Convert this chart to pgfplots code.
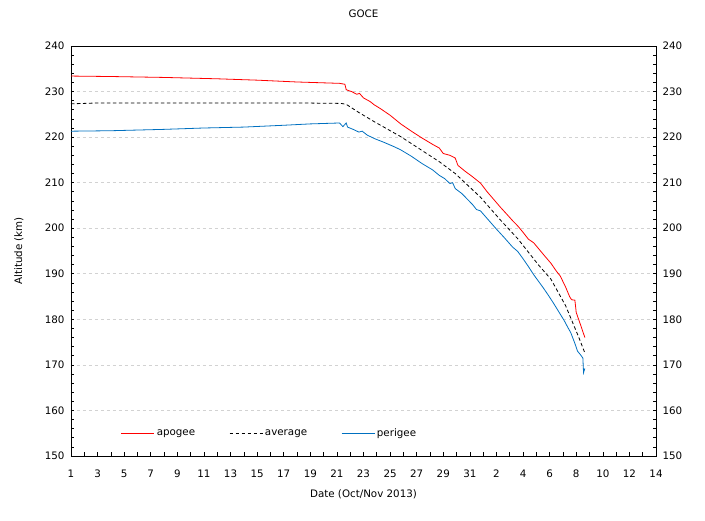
\documentclass[border=0pt]{standalone}
\usepackage{pgfplots}
\pgfplotsset{compat=1.18}
\usepackage{fontspec}
\setmainfont{DejaVu Sans}
\definecolor{apo}{RGB}{255,0,0}
\definecolor{peri}{RGB}{0,112,192}
\begin{document}
\begin{tikzpicture}[x=1pt,y=1pt]
\pgfplotsset{every axis/.append style={font=\fontsize{10.3}{12}\selectfont}}
\begin{axis}[
  name=main,
  scale only axis,
  width=585pt, height=410pt,
  xmin=1, xmax=45, ymin=150, ymax=240,
  /pgf/number format/assume math mode=true,
  xtick={1,3,5,7,9,11,13,15,17,19,21,23,25,27,29,31,33,35,37,39,41,43,45},
  xticklabels={1,3,5,7,9,11,13,15,17,19,21,23,25,27,29,31,2,4,6,8,10,12,14},
  minor x tick num=1,
  ytick={150,160,...,240},
  minor y tick num=4,
  tick align=inside,
  xtick pos=bottom,
  ytick pos=both,
  yticklabel pos=left,
  major tick length=3.5pt, minor tick length=3.5pt,
  tick style={black, line width=0.6pt},
  axis line style={line width=0.8pt},
  ymajorgrids,
  major grid style={dashed, gray!35, line width=0.6pt},
  xticklabel style={yshift=-10.5pt},
  yticklabel style={xshift=-3pt},
  title={GOCE},
  title style={at={(axis description cs:0.5,1.063)}, anchor=center},
  xlabel={Date (Oct/Nov 2013)},
  xlabel style={at={(axis description cs:0.5,-0.093)}, anchor=center},
  ylabel={Altitude (km)},
  ylabel style={at={(axis description cs:-0.089,0.5)}, anchor=center, rotate=0},
  legend style={at={(axis description cs:0.08,0.056)}, anchor=west, draw=white, fill=white,
    legend columns=3, font=\fontsize{10.3}{12}\selectfont,
    /tikz/every even column/.append style={column sep=32pt}},
  legend image code/.code={\draw[line width=0.8pt] (0pt,0pt) -- (33pt,0pt);},
]
\addplot[color=apo, line width=0.8pt] coordinates {
(1,233.4)(4,233.3)(8,233.1)(12,232.8)(15,232.5)(18,232.1)(21.2,231.8)(21.6,231.6)
(21.7,230.4)(22.1,230.0)(22.5,229.4)(22.7,229.6)(23.0,228.6)(23.5,227.8)(23.8,227.1)
(24.3,226.2)(25.0,224.8)(25.8,222.9)(26.6,221.3)(27.4,219.8)(28.2,218.4)(28.7,217.6)
(29.0,216.4)(29.5,216.0)(29.9,215.4)(30.1,213.8)(30.6,212.6)(31.2,211.3)(31.8,209.9)
(32.3,208.0)(32.8,206.3)(33.3,204.6)(33.8,203.0)(34.2,201.7)(34.6,200.5)(35.0,199.1)
(35.4,197.6)(35.8,196.8)(36.2,195.4)(36.6,194.0)(37.1,192.3)(37.5,190.6)(37.8,189.5)
(38.2,187.1)(38.5,185.0)(38.65,184.3)(38.9,184.2)(39.0,181.5)(39.3,179.0)(39.65,176.0)
};
\addlegendentry{apogee}
\addplot[color=black, line width=0.8pt, dash pattern=on 3.5pt off 2.5pt] coordinates {
(1,227.3)(3,227.5)(12,227.5)(18,227.5)(21.3,227.4)(21.7,227.2)(22.65,225.4)(23.8,223.4)
(25.8,220.1)(28.7,214.6)(29.9,212.0)(31.8,206.8)(33.3,201.8)(34.6,197.7)(36.2,191.8)
(37.1,188.8)(38.2,183.0)(39.2,176.0)(39.65,172.6)
};
\addlegendentry{average}
\addplot[color=peri, line width=0.8pt] coordinates {
(1,221.3)(4,221.4)(8,221.7)(11,222.0)(14,222.2)(17,222.6)(19,222.9)(21.2,223.1)
(21.45,222.3)(21.7,223.1)(21.8,222.2)(22.3,221.6)(22.65,221.1)(22.9,221.3)(23.3,220.4)
(23.6,220.0)(23.8,219.7)(24.5,218.9)(25.3,217.9)(25.8,217.2)(26.6,215.8)(27.4,214.2)
(28.2,212.8)(28.7,211.6)(29.1,210.9)(29.5,209.8)(29.7,210.0)(29.9,208.7)(30.4,207.6)
(30.8,206.4)(31.2,205.2)(31.5,204.1)(31.8,203.8)(32.4,201.8)(33.0,199.8)(33.6,197.9)
(34.2,195.9)(34.6,194.9)(35.0,193.3)(35.4,191.6)(35.8,189.8)(36.2,188.2)(36.5,187.0)
(36.9,185.3)(37.3,183.5)(37.7,181.6)(38.1,179.7)(38.3,178.6)(38.6,177.0)(38.9,174.7)
(39.1,173.0)(39.3,172.3)(39.5,171.5)(39.55,168.3)(39.65,169.2)
};
\addlegendentry{perigee}
\end{axis}
\begin{axis}[
  scale only axis,
  width=585pt, height=410pt,
  xmin=1, xmax=45, ymin=150, ymax=240,
  /pgf/number format/assume math mode=true,
  hide x axis,
  axis y line*=right,
  ytick={150,160,...,240},
  yticklabel style={xshift=3pt},
  major tick length=0pt, minor tick length=0pt,
  axis line style={draw=none},
  font=\fontsize{10.3}{12}\selectfont,
]
\end{axis}
\path (main.south west) ++(-71pt,-65pt) coordinate (bl);
\path (main.north east) ++(49pt,46pt) coordinate (tr);
\pgfresetboundingbox
\path[use as bounding box] (bl) rectangle (tr);
\end{tikzpicture}
\end{document}
